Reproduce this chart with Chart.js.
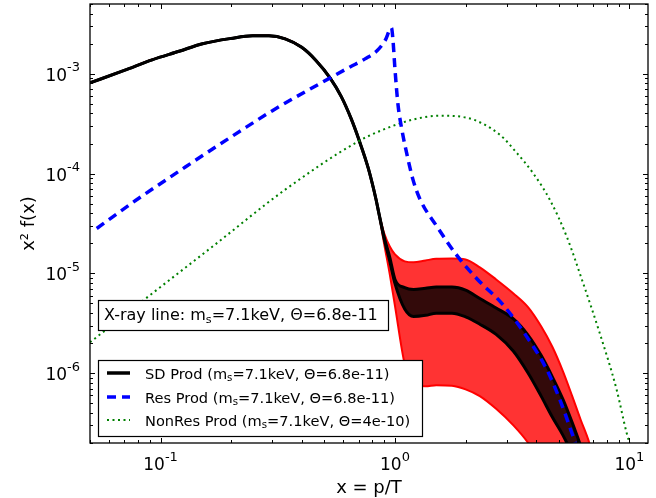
<!DOCTYPE html>
<html>
<head>
<meta charset="utf-8">
<script src="https://cdn.jsdelivr.net/npm/chart.js@4/dist/chart.umd.min.js"></script>
<style>
html,body{margin:0;padding:0;background:#fff;}
canvas{display:block;}
</style>
</head>
<body>
<canvas id="c" width="656" height="498"></canvas>
<script>
// ---------- data ----------
// shared x grid for the SD production curve and its uncertainty bands
const sdX = [0.05, 0.07, 0.092, 0.12, 0.151, 0.2, 0.247, 0.29, 0.34, 0.4, 0.46, 0.53, 0.59, 0.65, 0.7, 0.77, 0.83,
             0.85, 0.9, 0.95, 1.0, 1.1, 1.2, 1.35, 1.5, 1.75, 2.0, 2.3, 2.7, 3.2, 3.7, 4.2, 4.7, 5.2, 5.7, 6.2, 6.7, 7.2];
// wide (red) band, upper and lower edges
const redUpperY = [8.1e-4, 1.08e-3, 1.38e-3, 1.68e-3, 2.0e-3, 2.26e-3, 2.40e-3, 2.40e-3, 2.24e-3, 1.84e-3, 1.36e-3, 9.0e-4, 5.9e-4, 3.55e-4, 2.22e-4, 1.12e-4, 5.5e-5,
                   4.2e-5, 2.51e-5, 1.86e-5, 1.55e-5, 1.32e-5, 1.29e-5, 1.35e-5, 1.40e-5, 1.41e-5, 1.38e-5, 1.15e-5, 8.7e-6, 6.3e-6, 4.57e-6, 2.95e-6, 1.82e-6, 1.05e-6, 5.9e-7, 3.4e-7, 2.1e-7, 1.15e-7];
const redLowerY = [8.1e-4, 1.08e-3, 1.38e-3, 1.68e-3, 2.0e-3, 2.26e-3, 2.40e-3, 2.40e-3, 2.24e-3, 1.84e-3, 1.36e-3, 9.0e-4, 5.9e-4, 3.55e-4, 2.22e-4, 1.12e-4, 5.5e-5,
                   4.2e-5, 1.95e-5, 9.8e-6, 4.7e-6, 1.23e-6, 7.6e-7, 7.4e-7, 7.6e-7, 7.5e-7, 6.9e-7, 5.9e-7, 4.4e-7, 3.0e-7, 2.0e-7, 1.23e-7, 6.9e-8, 3.9e-8, 2.2e-8, 1.23e-8, 6.9e-9, 3.9e-9];
// narrow (black-edged) band, upper and lower edges
const sdUpperY  = [8.1e-4, 1.08e-3, 1.38e-3, 1.68e-3, 2.0e-3, 2.26e-3, 2.40e-3, 2.40e-3, 2.24e-3, 1.84e-3, 1.36e-3, 9.0e-4, 5.9e-4, 3.55e-4, 2.22e-4, 1.12e-4, 5.5e-5,
                   4.2e-5, 2.29e-5, 1.45e-5, 8.7e-6, 7.2e-6, 6.9e-6, 7.1e-6, 7.3e-6, 7.3e-6, 6.8e-6, 5.6e-6, 4.5e-6, 3.5e-6, 2.4e-6, 1.51e-6, 9.1e-7, 5.5e-7, 3.2e-7, 1.86e-7, 1.10e-7, 6.2e-8];
const sdLowerY  = [8.1e-4, 1.08e-3, 1.38e-3, 1.68e-3, 2.0e-3, 2.26e-3, 2.40e-3, 2.40e-3, 2.24e-3, 1.84e-3, 1.36e-3, 9.0e-4, 5.9e-4, 3.55e-4, 2.22e-4, 1.12e-4, 5.5e-5,
                   4.2e-5, 2.19e-5, 1.32e-5, 7.9e-6, 4.4e-6, 3.7e-6, 3.8e-6, 4.0e-6, 4.0e-6, 3.67e-6, 3.1e-6, 2.45e-6, 1.66e-6, 1.0e-6, 5.9e-7, 3.6e-7, 2.4e-7, 1.55e-7, 9.8e-8, 6.2e-8, 3.9e-8];
// resonant production
const resX = [0.0534, 0.0782, 0.128, 0.223, 0.30, 0.529, 0.643, 0.745, 0.838, 0.906, 0.966, 0.98, 1.0, 1.03, 1.07, 1.125, 1.193, 1.28, 1.51, 1.85, 2.25, 2.88, 3.64, 4.43, 5.04, 5.55, 6.0];
const resY = [2.82e-5, 5.37e-5, 1.17e-4, 2.75e-4, 4.27e-4, 9.1e-4, 1.17e-3, 1.41e-3, 1.70e-3, 2.14e-3, 2.88e-3, 2.19e-3, 1.10e-3, 4.9e-4, 2.75e-4, 1.55e-4, 8.7e-5, 5.5e-5, 2.95e-5, 1.48e-5, 8.7e-6, 4.9e-6, 2.34e-6, 1.10e-6, 5.5e-7, 2.95e-7, 1.74e-7];
// non-resonant production
const nonResX = [0.05, 0.0889, 0.171, 0.34, 0.696, 0.889, 1.19, 1.55, 2.02, 2.8, 3.3, 3.87, 4.57, 5.4, 6.31, 7.45, 8.81, 9.71, 10.2];
const nonResY = [2.04e-6, 5.9e-6, 1.95e-5, 6.9e-5, 2.1e-4, 2.75e-4, 3.47e-4, 3.8e-4, 3.63e-4, 2.45e-4, 1.62e-4, 1.02e-4, 5.5e-5, 2.34e-5, 8.3e-6, 2.57e-6, 6.9e-7, 2.57e-7, 1.74e-7];

// axis ticks / labels
const xMajorTicks = [0.1, 1, 10];
const xTickExp = ['-1', '0', '1'];
const yMajorTicks = [1e-6, 1e-5, 1e-4, 1e-3];
const yTickExp = ['-6', '-5', '-4', '-3'];
const xTitle = 'x = p/T';
const yTitle = 'x\u00B2 f(x)';
// legend / annotation text (m, subscript s, rest)
const legendLabels = [
  ['SD Prod (m', 's', '=7.1keV, \u0398=6.8e-11)'],
  ['Res Prod (m', 's', '=7.1keV, \u0398=6.8e-11)'],
  ['NonRes Prod (m', 's', '=7.1keV, \u0398=4e-10)']
];
const boxLabel = ['X-ray line: m', 's', '=7.1keV, \u0398=6.8e-11'];

// ---------- chart ----------
const pts = (xs, ys) => xs.map((x, i) => ({x: x, y: ys[i]}));
const FONT = '"DejaVu Sans", "Bitstream Vera Sans", sans-serif';

function drawPow(ctx, base, exp, x, yBase, align) {
  ctx.font = '17px ' + FONT; const wb = ctx.measureText(base).width;
  ctx.font = '13px ' + FONT; const we = ctx.measureText(exp).width;
  const x0 = align === 'right' ? x - wb - we : x - (wb + we) / 2;
  ctx.textAlign = 'left'; ctx.textBaseline = 'alphabetic';
  ctx.font = '17px ' + FONT; ctx.fillText(base, x0, yBase);
  ctx.font = '13px ' + FONT; ctx.fillText(exp, x0 + wb, yBase - 9.5);
}
function drawSub(ctx, parts, x, y, size) {
  ctx.textAlign = 'left'; ctx.textBaseline = 'alphabetic';
  let cx = x;
  ctx.font = size + 'px ' + FONT; ctx.fillText(parts[0], cx, y); cx += ctx.measureText(parts[0]).width;
  ctx.font = (size * 0.7) + 'px ' + FONT; ctx.fillText(parts[1], cx, y + size * 0.2); cx += ctx.measureText(parts[1]).width;
  ctx.font = size + 'px ' + FONT; ctx.fillText(parts[2], cx, y);
}

const decor = {
  id: 'decor',
  afterDatasetsDraw(chart) {
    const {ctx, chartArea: a, scales} = chart;
    const xs = scales.x, ys = scales.y;
    ctx.save();
    ctx.fillStyle = '#000';
    ctx.strokeStyle = '#000';
    // ticks, all four sides, pointing inward
    ctx.lineWidth = 1;
    ctx.beginPath();
    for (let d = -2; d <= 1; d++) {
      for (let m = 1; m <= 9; m++) {
        const v = m * Math.pow(10, d);
        if (v < 0.05 * 0.999 || v > 12) continue;
        const px = Math.round(xs.getPixelForValue(v)) + 0.5;
        const L = m === 1 ? 5 : 3;
        ctx.moveTo(px, a.bottom); ctx.lineTo(px, a.bottom - L);
        ctx.moveTo(px, a.top); ctx.lineTo(px, a.top + L);
      }
    }
    for (let d = -7; d <= -3; d++) {
      for (let m = 1; m <= 9; m++) {
        const v = m * Math.pow(10, d);
        if (v < 2e-7 * 0.999 || v > 5e-3 * 1.001) continue;
        const py = Math.round(ys.getPixelForValue(v)) + 0.5;
        const L = m === 1 ? 5 : 3;
        ctx.moveTo(a.left, py); ctx.lineTo(a.left + L, py);
        ctx.moveTo(a.right, py); ctx.lineTo(a.right - L, py);
      }
    }
    ctx.stroke();
    // frame
    ctx.lineWidth = 1.3;
    ctx.strokeRect(a.left, a.top, a.right - a.left, a.bottom - a.top);

    // tick labels
    xMajorTicks.forEach((v, i) => drawPow(ctx, '10', xTickExp[i], xs.getPixelForValue(v), 470, 'center'));
    yMajorTicks.forEach((v, i) => drawPow(ctx, '10', yTickExp[i], 80, ys.getPixelForValue(v) + 7, 'right'));

    // axis titles
    ctx.font = '18px ' + FONT;
    ctx.textAlign = 'center'; ctx.textBaseline = 'alphabetic';
    ctx.fillText(xTitle, (a.left + a.right) / 2, 493);
    ctx.save();
    ctx.translate(34, (a.top + a.bottom) / 2);
    ctx.rotate(-Math.PI / 2);
    ctx.fillText(yTitle, 0, 0);
    ctx.restore();

    // X-ray line annotation box
    ctx.fillStyle = '#fff';
    ctx.fillRect(98, 300, 290, 30);
    ctx.lineWidth = 1.2; ctx.strokeStyle = '#000';
    ctx.strokeRect(98.5, 300.5, 290, 30);
    ctx.fillStyle = '#000';
    drawSub(ctx, boxLabel, 104, 319.5, 16);

    // legend
    ctx.fillStyle = '#fff';
    ctx.fillRect(98, 360, 324, 76);
    ctx.strokeRect(98.5, 360.5, 324, 76);
    const rows = [373, 397, 420];
    const styles = [
      {c: '#000000', w: 3.5, d: []},
      {c: '#0000ff', w: 3.5, d: [9, 6]},
      {c: '#008000', w: 2, d: [2, 3.5]}
    ];
    rows.forEach((ry, i) => {
      const s = styles[i];
      ctx.beginPath();
      ctx.strokeStyle = s.c; ctx.lineWidth = s.w; ctx.setLineDash(s.d); ctx.lineCap = 'butt';
      ctx.moveTo(107, ry); ctx.lineTo(130, ry);
      ctx.stroke();
      ctx.setLineDash([]);
      ctx.fillStyle = '#000';
      drawSub(ctx, legendLabels[i], 145, ry + 5.5, 14.6);
    });
    ctx.restore();
  }
};

new Chart(document.getElementById('c'), {
  type: 'line',
  data: {
    datasets: [
      {label: 'band hi', data: pts(sdX, redUpperY), borderColor: '#ff0000', borderWidth: 2, backgroundColor: '#ff3333', fill: '+1', order: 5},
      {label: 'band lo', data: pts(sdX, redLowerY), borderColor: '#ff0000', borderWidth: 2, fill: false, order: 4},
      {label: 'SD Prod (upper)', data: pts(sdX, sdUpperY), borderColor: '#000000', borderWidth: 3, backgroundColor: '#330a0a', fill: '+1', order: 3},
      {label: 'SD Prod (lower)', data: pts(sdX, sdLowerY), borderColor: '#000000', borderWidth: 3, fill: false, order: 2},
      {label: 'NonRes Prod', data: pts(nonResX, nonResY), borderColor: '#008000', borderWidth: 2, borderDash: [2, 3.5], fill: false, order: 1},
      {label: 'Res Prod', data: pts(resX, resY), borderColor: '#0000ff', borderWidth: 3.5, borderDash: [9, 6], fill: false, order: 0}
    ]
  },
  options: {
    responsive: false,
    animation: false,
    devicePixelRatio: 1,
    layout: {padding: {left: 90, right: 8, top: 4, bottom: 55}},
    plugins: {legend: {display: false}, tooltip: {enabled: false}},
    elements: {point: {radius: 0}, line: {cubicInterpolationMode: 'monotone', borderJoinStyle: 'round'}},
    scales: {
      x: {type: 'logarithmic', min: 0.05, max: 12, display: false},
      y: {type: 'logarithmic', min: 2e-7, max: 5e-3, display: false}
    }
  },
  plugins: [decor]
});
</script>
</body>
</html>
